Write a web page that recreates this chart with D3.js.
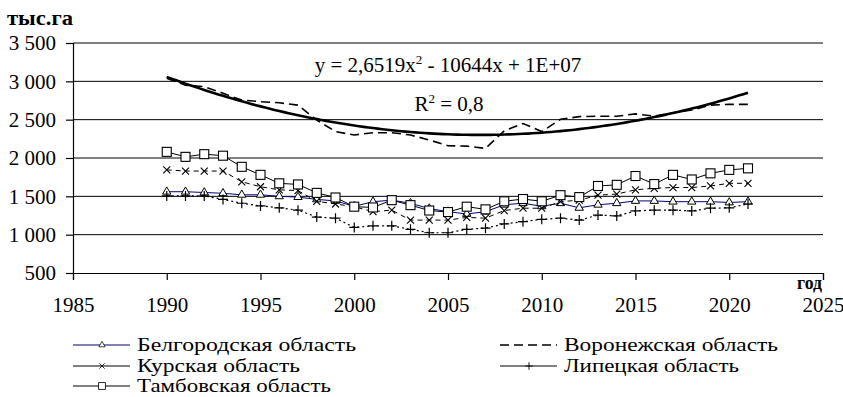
<!DOCTYPE html>
<html>
<head>
<meta charset="utf-8">
<script src="https://cdn.jsdelivr.net/npm/d3@7"></script>
</head>
<body style="margin:0">
<script>
var years = d3.range(1990, 2022)
var belgorod = [1560, 1560, 1550, 1540, 1520, 1520, 1500, 1490, 1460, 1440, 1370, 1430, 1450, 1410, 1340, 1300,
                1270, 1300, 1390, 1410, 1370, 1410, 1350, 1390, 1410, 1440, 1440, 1430, 1430, 1430, 1420, 1430]
var voronezh = [3040, 2950, 2930, 2845, 2755, 2735, 2720, 2690, 2495, 2345, 2300, 2330, 2330, 2300, 2235, 2160,
                2155, 2125, 2355, 2450, 2345, 2505, 2540, 2545, 2545, 2575, 2545, 2590, 2625, 2690, 2700, 2700]
var kursk = [1845, 1830, 1830, 1830, 1690, 1625, 1585, 1575, 1435, 1400, 1365, 1300, 1320, 1190, 1190, 1190,
             1225, 1215, 1315, 1345, 1345, 1430, 1450, 1515, 1530, 1585, 1605, 1615, 1615, 1635, 1670, 1670]
var lipetsk = [1505, 1505, 1505, 1460, 1410, 1375, 1350, 1320, 1230, 1215, 1095, 1115, 1115, 1070, 1025, 1025,
               1070, 1085, 1140, 1170, 1200, 1215, 1190, 1255, 1245, 1310, 1320, 1320, 1310, 1345, 1350, 1400]
var tambov = [2080, 2015, 2050, 2030, 1885, 1780, 1670, 1655, 1545, 1485, 1365, 1355, 1450, 1385, 1315, 1295,
              1365, 1330, 1435, 1465, 1435, 1515, 1490, 1635, 1650, 1765, 1660, 1780, 1720, 1800, 1845, 1865]
var xTicks = [1985, 1990, 1995, 2000, 2005, 2010, 2015, 2020, 2025]
var yTicks = [500, 1000, 1500, 2000, 2500, 3000, 3500]
var trendText = "y = 2,6519x"
var trendText2 = " - 10644x + 1E+07"
var r2Text = "= 0,8"

function serif(sel, size) {
    return sel.attr("font-family", "Liberation Serif")
        .style("font-family", "'Liberation Serif'")
        .attr("font-size", size)
}

function marker(g, type, cx, cy) {
    if (type === "tri") {
        g.append("path").attr("d", d3.symbol(d3.symbolTriangle, 30)())
            .attr("transform", "translate(" + cx + "," + cy + ")")
            .attr("fill", "#fff").attr("stroke", "#000").attr("stroke-width", 1)
    } else if (type === "x") {
        g.append("path").attr("d", "M-3.5,-3.5L3.5,3.5M-3.5,3.5L3.5,-3.5")
            .attr("transform", "translate(" + cx + "," + cy + ")")
            .attr("stroke", "#000").attr("stroke-width", 1.1)
    } else if (type === "plus") {
        g.append("path").attr("d", "M-5,0L5,0M0,-5L0,5")
            .attr("transform", "translate(" + cx + "," + cy + ")")
            .attr("stroke", "#000").attr("stroke-width", 1.2)
    } else if (type === "sq") {
        g.append("rect").attr("x", cx - 4.5).attr("y", cy - 4.5)
            .attr("width", 9).attr("height", 9)
            .attr("fill", "#fff").attr("stroke", "#000").attr("stroke-width", 1.1)
    }
}

// polynomial trend (least squares, order 2)
function quadFit(xs, ys) {
    var m = d3.mean(xs)
    var S = [0, 0, 0, 0, 0], T = [0, 0, 0]
    xs.forEach(function (xv, i) {
        var t = xv - m
        for (var k = 0; k < 5; k++) S[k] += Math.pow(t, k)
        for (var k = 0; k < 3; k++) T[k] += ys[i] * Math.pow(t, k)
    })
    var A = [[S[0], S[1], S[2], T[0]], [S[1], S[2], S[3], T[1]], [S[2], S[3], S[4], T[2]]]
    for (var c = 0; c < 3; c++) {
        for (var r = c + 1; r < 3; r++) {
            var f = A[r][c] / A[c][c]
            for (var k = c; k < 4; k++) A[r][k] -= f * A[c][k]
        }
    }
    var coef = [0, 0, 0]
    for (var r = 2; r >= 0; r--) {
        var sum = A[r][3]
        for (var k = r + 1; k < 3; k++) sum -= A[r][k] * coef[k]
        coef[r] = sum / A[r][r]
    }
    return function (xv) { var t = xv - m; return coef[0] + coef[1] * t + coef[2] * t * t }
}

function main() {
    var width = 843, height = 397
    var svg = d3.select("body").append("svg")
        .attr("width", width)
        .attr("height", height)
        .attr("font-family", "Liberation Serif")

    var x = d3.scaleLinear().domain([1985, 2025]).range([73, 823])
    var y = d3.scaleLinear().domain([500, 3500]).range([273, 43])

    var ru = d3.formatLocale({decimal: ",", thousands: " ", grouping: [3], currency: ["", ""]})
    var fmt = ru.format(",")

    // grid lines
    svg.append("g").selectAll("line")
        .data(yTicks.slice(1))
        .enter().append("line")
        .attr("x1", x(1985)).attr("x2", x(2025))
        .attr("y1", d => y(d)).attr("y2", d => y(d))
        .attr("stroke", "#000").attr("stroke-width", 1)

    // axes
    var yAxis = svg.append("g")
        .attr("transform", "translate(" + x(1985) + ",0)")
        .call(d3.axisLeft(y).tickValues(yTicks).tickFormat(fmt).tickSize(7).tickPadding(10))
    var xAxis = svg.append("g")
        .attr("transform", "translate(0," + y(500) + ")")
        .call(d3.axisBottom(x).tickValues(xTicks).tickFormat(d3.format("d")).tickSize(7).tickPadding(17))
    ;[yAxis, xAxis].forEach(function (g) {
        g.attr("font-family", "Liberation Serif").attr("font-size", 21)
        g.select(".domain").attr("stroke", "#000").attr("stroke-width", 1.2)
        g.selectAll(".tick line").attr("stroke", "#000").attr("stroke-width", 1.2)
        serif(g.selectAll("text"), 21).attr("fill", "#000")
    })

    // axis titles
    serif(svg.append("text"), 21).attr("x", 7).attr("y", 25)
        .attr("font-weight", "bold")
        .attr("textLength", 66).attr("lengthAdjust", "spacingAndGlyphs").text("тыс.га")
    serif(svg.append("text"), 18).attr("x", 797).attr("y", 289)
        .attr("font-weight", "bold")
        .attr("textLength", 25).attr("lengthAdjust", "spacingAndGlyphs").text("год")

    var series = [
        {name: "Белгородская область", values: belgorod, color: "#000080", width: 1, dash: null, mark: "tri"},
        {name: "Воронежская область", values: voronezh, color: "#000", width: 1.6, dash: "9,5", mark: null},
        {name: "Курская область", values: kursk, color: "#000", width: 1, dash: "5,4", mark: "x"},
        {name: "Липецкая область", values: lipetsk, color: "#000", width: 1.2, dash: "2,3", mark: "plus"},
        {name: "Тамбовская область", values: tambov, color: "#000", width: 1, dash: null, mark: "sq"}
    ]

    var line = d3.line().x(d => x(d[0])).y(d => y(d[1]))

    series.forEach(function (s) {
        var pts = years.map((yr, i) => [yr, s.values[i]])
        var g = svg.append("g")
        g.append("path").datum(pts)
            .attr("d", line)
            .attr("fill", "none")
            .attr("stroke", s.color)
            .attr("stroke-width", s.width)
            .attr("stroke-dasharray", s.dash)
        if (s.mark) {
            pts.forEach(p => marker(g, s.mark, x(p[0]), y(p[1])))
        }
    })

    // trend for Воронежская область
    var trend = quadFit(years, voronezh)
    var trendPts = d3.range(1990, 2021.01, 0.25).map(v => [v, trend(v)])
    svg.append("path").datum(trendPts)
        .attr("d", line)
        .attr("fill", "none")
        .attr("stroke", "#000")
        .attr("stroke-width", 2.6)

    // equation labels
    var eq = serif(svg.append("text"), 21).attr("x", 448).attr("y", 72)
        .attr("text-anchor", "middle")
    eq.append("tspan").text(trendText)
    eq.append("tspan").attr("dy", -8).attr("font-size", 13).text("2")
    eq.append("tspan").attr("dy", 8).text(trendText2)
    var r2 = serif(svg.append("text"), 21).attr("x", 449).attr("y", 111)
        .attr("text-anchor", "middle")
    r2.append("tspan").text("R")
    r2.append("tspan").attr("dy", -8).attr("font-size", 13).text("2")
    r2.append("tspan").attr("dy", 8).text(" " + r2Text)

    // legend
    var legendPos = [
        {x: 73, y: 345, w: 219}, {x: 500, y: 345, w: 214},
        {x: 73, y: 366, w: 163}, {x: 500, y: 366, w: 175},
        {x: 73, y: 386, w: 194}
    ]
    series.forEach(function (s, i) {
        var p = legendPos[i]
        var g = svg.append("g")
        g.append("line")
            .attr("x1", p.x).attr("x2", p.x + 57)
            .attr("y1", p.y).attr("y2", p.y)
            .attr("stroke", s.color)
            .attr("stroke-width", s.dash === "9,5" ? 1.6 : 1)
            .attr("stroke-dasharray", s.dash === "9,5" ? "9,5" : null)
        if (s.mark) {
            var mg = g.append("g").attr("transform", "translate(" + (p.x + 29) + "," + p.y + ") scale(0.75)")
            marker(mg, s.mark, 0, 0)
        }
        serif(g.append("text"), 18).attr("x", p.x + 64).attr("y", p.y + 6)
            .attr("textLength", p.w).attr("lengthAdjust", "spacingAndGlyphs")
            .text(s.name)
    })
}

// wait for the serif face before drawing
if (document.fonts && document.fonts.load) {
    Promise.all([
        document.fonts.load("21px 'Liberation Serif'"),
        document.fonts.load("bold 21px 'Liberation Serif'")
    ]).then(main, main)
} else {
    main()
}
</script>
</body>
</html>
